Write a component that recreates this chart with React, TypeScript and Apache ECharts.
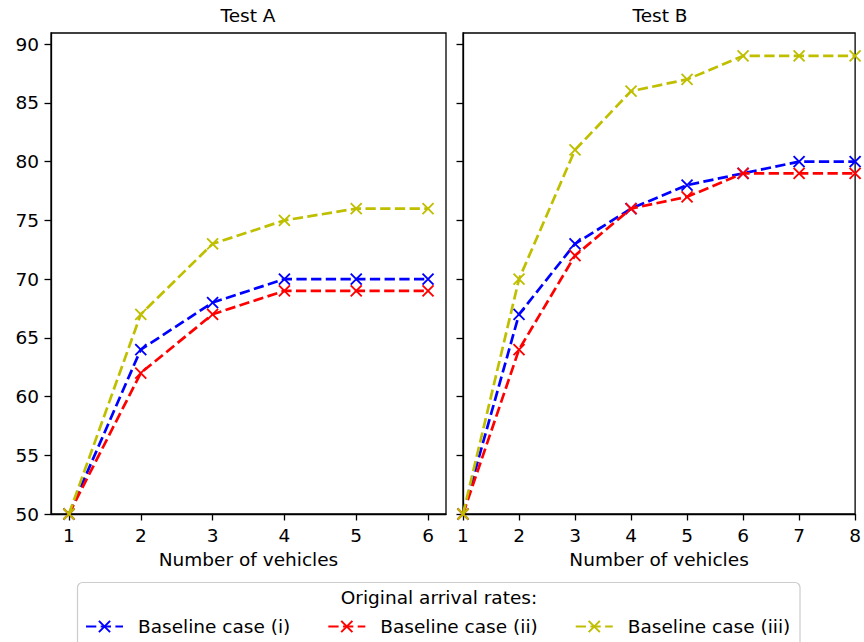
import React, { useEffect, useRef } from "react";
import * as echarts from "echarts";

const vehiclesA = [1, 2, 3, 4, 5, 6];
const vehiclesB = [1, 2, 3, 4, 5, 6, 7, 8];
const testA_i = [50, 64, 68, 70, 70, 70];
const testA_ii = [50, 62, 67, 69, 69, 69];
const testA_iii = [50, 67, 73, 75, 76, 76];
const testB_i = [50, 67, 73, 76, 78, 79, 80, 80];
const testB_ii = [50, 64, 72, 76, 77, 79, 79, 79];
const testB_iii = [50, 70, 81, 86, 87, 89, 89, 89];
const yTicks = [50, 55, 60, 65, 70, 75, 80, 85, 90];
const seriesNames = ["Baseline case (i)", "Baseline case (ii)", "Baseline case (iii)"];
const seriesColors = ["#0000ff", "#ff0000", "#bfbf00"];
const panelTitles = ["Test A", "Test B"];
const legendTitle = "Original arrival rates:";
const xAxisName = "Number of vehicles";

const FONT = "DejaVu Sans";
const FS = 18.5;
const X_SYMBOL = "path://M0,0L10,10M0,10L10,0";

export default function App() {
  const ref = useRef<HTMLDivElement>(null);
  useEffect(() => {
    if (!ref.current) return;
    const chart = echarts.init(ref.current, null, { renderer: "svg" });
    const panels = [
      { x: vehiclesA, ys: [testA_i, testA_ii, testA_iii] },
      { x: vehiclesB, ys: [testB_i, testB_ii, testB_iii] },
    ];
    const series: any[] = [];
    panels.forEach((p, gi) => {
      p.ys.forEach((vals, si) => {
        series.push({
          type: "line",
          name: seriesNames[si],
          xAxisIndex: gi,
          yAxisIndex: gi,
          data: p.x.map((xv, k) => [xv, vals[k]]),
          symbol: X_SYMBOL,
          symbolSize: 11,
          symbolKeepAspect: true,
          showAllSymbol: true,
          lineStyle: { color: seriesColors[si], width: 2.7, type: [10.3, 4.4] },
          itemStyle: { color: seriesColors[si], borderColor: seriesColors[si], borderWidth: 1.9 },
          emphasis: { disabled: true },
          z: 2 + si,
        });
      });
    });
    const axisCommon = {
      type: "value",
      axisLine: { show: true, onZero: false, lineStyle: { color: "#000", width: 1.3 } },
      axisTick: { show: true, inside: false, length: 6.5, lineStyle: { color: "#000", width: 1.3 } },
      splitLine: { show: false },
    };
    const xAxis = [
      { min: 0.75, max: 6.25, ticks: vehiclesA },
      { min: 1, max: 8, ticks: vehiclesB },
    ].map((a, i) => ({
      ...axisCommon,
      gridIndex: i,
      min: a.min,
      max: a.max,
      name: xAxisName,
      nameLocation: "middle",
      nameGap: 36,
      nameTextStyle: { fontFamily: FONT, fontSize: FS, color: "#000", verticalAlign: "top" },
      axisTick: { ...axisCommon.axisTick, customValues: a.ticks },
      axisLabel: {
        customValues: a.ticks,
        margin: 12,
        fontFamily: FONT,
        fontSize: FS,
        color: "#000",
      },
    }));
    const yAxis = [0, 1].map((i) => ({
      ...axisCommon,
      gridIndex: i,
      min: 50,
      max: 90.95,
      axisTick: { ...axisCommon.axisTick, customValues: yTicks },
      axisLabel: {
        show: i === 0,
        customValues: yTicks,
        margin: 12,
        fontFamily: FONT,
        fontSize: FS,
        color: "#000",
      },
    }));
    chart.setOption({
      animation: false,
      backgroundColor: "#fff",
      textStyle: { fontFamily: FONT },
      title: [
        { text: panelTitles[0], left: 248, top: 6, textAlign: "center", padding: 0,
          textStyle: { fontFamily: FONT, fontSize: FS, fontWeight: "normal", color: "#000" } },
        { text: panelTitles[1], left: 660, top: 6, textAlign: "center", padding: 0,
          textStyle: { fontFamily: FONT, fontSize: FS, fontWeight: "normal", color: "#000" } },
      ],
      grid: [
        { left: 51, top: 33, width: 395, height: 481, show: true, borderColor: "#000", borderWidth: 1.3, backgroundColor: "transparent" },
        { left: 463, top: 33, width: 394, height: 481, show: true, borderColor: "#000", borderWidth: 1.3, backgroundColor: "transparent" },
      ],
      xAxis,
      yAxis,
      graphic: [
        {
          type: "rect",
          z: 0,
          shape: { x: 77.5, y: 582.5, width: 722.5, height: 80, r: 5 },
          style: { fill: "#fff", stroke: "#cccccc", lineWidth: 1.2 },
          silent: true,
        },
        {
          type: "text",
          z: 1,
          x: 439,
          y: 597,
          style: { text: legendTitle, fill: "#000", font: `${FS}px "${FONT}"`, align: "center", verticalAlign: "middle" },
          silent: true,
        },
      ],
      legend: {
        show: true,
        orient: "horizontal",
        left: 85,
        top: 617,
        padding: 0,
        itemWidth: 37,
        itemHeight: 14,
        itemGap: 37,
        data: seriesNames,
        selectedMode: false,
        textStyle: { fontFamily: FONT, fontSize: FS, color: "#000", padding: [0, 0, 0, 10] },
      },
      series,
    });
    return () => chart.dispose();
  }, []);
  return (
    <div
      ref={ref}
      style={{ position: "absolute", left: 0, top: 0, width: 864, height: 642 }}
    />
  );
}
